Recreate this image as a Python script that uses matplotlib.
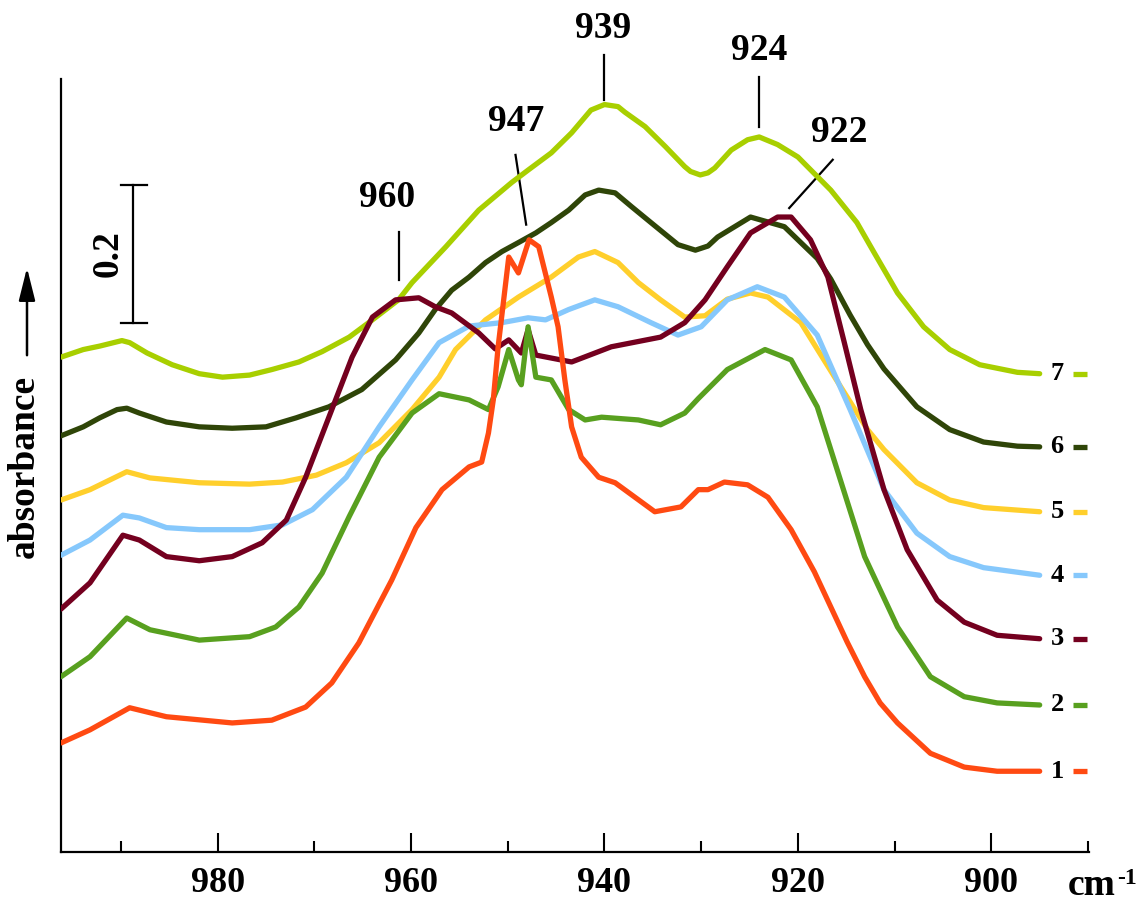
import matplotlib.pyplot as plt

plt.rcParams['font.family'] = ['Liberation Serif', 'DejaVu Serif']
plt.rcParams['font.weight'] = 'bold'

# wavenumber (cm-1) / absorbance pairs, spectra stacked bottom (1) to top (7)
w1 = [996.2, 993.2, 989.1, 985.3, 978.5, 974.4, 970.9, 968.2, 965.4, 962.0,
      959.5, 956.8, 954.0, 952.7, 952.0, 951.5, 951.0, 949.9, 948.9, 947.8,
      946.8, 945.5, 944.8, 944.1, 943.4, 942.4, 940.6, 938.9, 934.8, 932.1,
      930.3, 929.3, 927.6, 925.2, 923.1, 920.7, 918.3, 916.6, 914.9, 913.1,
      911.5, 909.7, 906.3, 902.8, 899.4, 895.0]
a1 = [0.158, 0.177, 0.209, 0.196, 0.187, 0.191, 0.210, 0.245, 0.303, 0.394,
      0.470, 0.525, 0.558, 0.565, 0.607, 0.655, 0.732, 0.862, 0.839, 0.887,
      0.877, 0.804, 0.761, 0.684, 0.616, 0.572, 0.543, 0.535, 0.493, 0.500,
      0.525, 0.525, 0.536, 0.532, 0.514, 0.467, 0.406, 0.355, 0.304, 0.254,
      0.216, 0.187, 0.143, 0.123, 0.117, 0.117]

w2 = [996.2, 993.2, 989.4, 987.0, 981.9, 976.7, 974.0, 971.6, 969.2, 966.4,
      963.3, 959.9, 957.1, 954.0, 952.0, 951.0, 949.9, 948.9, 948.6, 947.9,
      947.1, 945.5, 943.7, 942.0, 940.3, 936.5, 934.2, 931.7, 930.3, 927.3,
      923.4, 920.7, 918.0, 916.6, 913.1, 909.7, 906.3, 902.8, 899.4, 895.0]
a2 = [0.254, 0.283, 0.339, 0.322, 0.307, 0.312, 0.326, 0.355, 0.404, 0.486,
      0.572, 0.636, 0.664, 0.655, 0.641, 0.674, 0.728, 0.684, 0.677, 0.761,
      0.688, 0.684, 0.641, 0.626, 0.630, 0.626, 0.619, 0.636, 0.657, 0.699,
      0.728, 0.713, 0.645, 0.583, 0.428, 0.326, 0.254, 0.225, 0.216, 0.213]

w3 = [996.2, 993.2, 989.8, 988.1, 985.3, 981.9, 978.5, 975.4, 972.9, 970.9,
      968.5, 966.1, 964.0, 961.6, 959.2, 957.5, 955.8, 953.0, 951.3, 949.9,
      948.6, 947.9, 947.1, 943.4, 939.3, 934.2, 931.7, 929.6, 927.3, 924.9,
      922.1, 920.7, 918.7, 916.9, 915.2, 913.5, 911.1, 908.7, 905.6, 902.8,
      899.4, 895.0]
a3 = [0.352, 0.390, 0.459, 0.452, 0.428, 0.422, 0.428, 0.448, 0.481, 0.543,
      0.630, 0.717, 0.775, 0.800, 0.803, 0.790, 0.781, 0.752, 0.729, 0.742,
      0.723, 0.757, 0.720, 0.710, 0.732, 0.746, 0.767, 0.800, 0.848, 0.897,
      0.920, 0.920, 0.887, 0.833, 0.738, 0.641, 0.525, 0.438, 0.365, 0.333,
      0.314, 0.309]

w4 = [996.2, 993.2, 989.8, 988.1, 985.3, 981.9, 976.7, 973.3, 970.2, 966.7,
      963.3, 959.9, 957.1, 954.0, 950.6, 947.9, 946.1, 943.7, 941.0, 938.6,
      935.2, 932.4, 930.0, 927.3, 924.2, 921.4, 918.0, 914.6, 911.1, 907.7,
      904.3, 900.8, 895.0]
a4 = [0.430, 0.452, 0.488, 0.484, 0.470, 0.467, 0.467, 0.474, 0.496, 0.543,
      0.616, 0.684, 0.738, 0.762, 0.767, 0.774, 0.771, 0.786, 0.800, 0.790,
      0.767, 0.749, 0.761, 0.800, 0.819, 0.804, 0.749, 0.641, 0.525, 0.462,
      0.428, 0.412, 0.401]

w5 = [996.2, 993.2, 989.4, 987.0, 981.9, 976.7, 973.3, 969.8, 966.7, 963.3,
      959.9, 957.1, 955.4, 952.3, 948.9, 945.5, 942.7, 941.0, 938.6, 936.5,
      934.2, 931.7, 929.6, 927.3, 924.9, 923.1, 919.7, 916.2, 912.8, 911.1,
      907.7, 904.3, 900.8, 895.0]
a5 = [0.510, 0.525, 0.551, 0.542, 0.535, 0.533, 0.536, 0.546, 0.564, 0.593,
      0.641, 0.688, 0.728, 0.771, 0.804, 0.833, 0.862, 0.870, 0.854, 0.825,
      0.800, 0.775, 0.777, 0.801, 0.810, 0.804, 0.767, 0.688, 0.612, 0.583,
      0.535, 0.510, 0.499, 0.493]

w6 = [996.2, 993.9, 992.2, 990.4, 989.4, 988.1, 985.3, 981.9, 978.5, 975.0,
      971.9, 968.5, 965.1, 961.6, 959.2, 957.5, 955.8, 954.0, 952.3, 950.6,
      948.9, 947.1, 945.5, 943.7, 942.0, 940.6, 938.9, 937.2, 935.2, 932.4,
      930.6, 929.3, 928.3, 924.9, 921.4, 918.0, 916.6, 914.6, 912.8, 911.1,
      907.7, 904.3, 900.8, 897.3, 895.0]
a6 = [0.603, 0.616, 0.629, 0.641, 0.643, 0.636, 0.623, 0.616, 0.614, 0.616,
      0.629, 0.645, 0.670, 0.713, 0.752, 0.786, 0.814, 0.833, 0.854, 0.870,
      0.883, 0.897, 0.912, 0.930, 0.952, 0.959, 0.955, 0.935, 0.912, 0.880,
      0.872, 0.878, 0.891, 0.920, 0.906, 0.860, 0.830, 0.778, 0.735, 0.700,
      0.645, 0.612, 0.594, 0.588, 0.587]

w7 = [996.2, 993.9, 992.2, 989.9, 989.1, 987.3, 984.7, 981.9, 979.5, 976.7,
      974.4, 971.6, 969.2, 966.4, 964.0, 961.3, 959.9, 956.4, 953.0, 949.6,
      947.9, 945.5, 943.4, 941.4, 940.0, 938.6, 937.9, 935.8, 933.7, 931.7,
      931.1, 930.1, 929.3, 928.6, 926.9, 925.2, 924.0, 922.1, 920.0, 916.6,
      913.9, 912.1, 909.7, 907.0, 904.3, 901.2, 897.3, 895.0]
a7 = [0.717, 0.728, 0.733, 0.741, 0.738, 0.723, 0.706, 0.693, 0.688, 0.691,
      0.699, 0.710, 0.725, 0.746, 0.771, 0.800, 0.825, 0.877, 0.930, 0.970,
      0.988, 1.013, 1.042, 1.075, 1.083, 1.080, 1.072, 1.051, 1.022, 0.993,
      0.986, 0.981, 0.984, 0.991, 1.017, 1.032, 1.036, 1.025, 1.007, 0.959,
      0.912, 0.868, 0.810, 0.761, 0.728, 0.706, 0.695, 0.693]

curve_labels = ['1', '2', '3', '4', '5', '6', '7']
colors = ['#ff4a12', '#58a01f', '#74001f', '#86c8fc', '#ffcf2c', '#2f4508', '#a8cf00']

# band positions marked above the spectra
peak_labels = ['960', '947', '939', '924', '922']

spectra = [(w1, a1), (w2, a2), (w3, a3), (w4, a4), (w5, a5), (w6, a6), (w7, a7)]

fig = plt.figure(figsize=(11.41, 9.02), dpi=100)
ax = fig.add_axes([61 / 1141, 50 / 902, 1028 / 1141, 773 / 902])

for (w, a), c, lab in reversed(list(zip(spectra, colors, curve_labels))):
    ax.plot(w, a, color=c, lw=3.8, solid_joinstyle='round', solid_capstyle='round', zorder=3)
    ax.text(893.2, a[-1], lab, ha='center', va='center', fontsize=19, fontweight='bold')
    ax.plot([891.6, 890.1], [a[-1], a[-1]], color=c, lw=3.8, solid_capstyle='butt',
            clip_on=False, zorder=3)

# marker lines and labels for the bands
marks = [
    ((962.5, 0.949), (961.3, 0.899), (961.3, 0.829)),
    ((949.1, 1.058), (949.2, 1.010), (948.1, 0.909)),
    ((940.1, 1.193), (940.1, 1.155), (940.1, 1.090)),
    ((924.0, 1.161), (924.0, 1.123), (924.0, 1.051)),
    ((915.7, 1.042), (916.4, 1.003), (920.9, 0.933)),
]
for lab, (txt, p0, p1) in zip(peak_labels, marks):
    ax.text(txt[0], txt[1], lab, ha='center', va='center', fontsize=27, fontweight='bold')
    ax.plot([p0[0], p1[0]], [p0[1], p1[1]], color='black', lw=1.6, clip_on=False, zorder=1)

# 0.2 absorbance scale bar
bar_x, bar_lo, bar_len = 988.8, 0.767, 0.2
ax.plot([bar_x, bar_x], [bar_lo, bar_lo + bar_len], color='black', lw=1.6)
for yy in (bar_lo, bar_lo + bar_len):
    ax.plot([990.0, 987.35], [yy, yy], color='black', lw=1.6)
ax.text(991.3, bar_lo + bar_len / 2, '0.2', rotation=90, ha='center', va='center',
        fontsize=27, fontweight='bold')

ax.set_xlim(996.2, 889.9)
ax.set_ylim(0, 1.12)
ax.set_xticks([980, 960, 940, 920, 900])
ax.set_xticks([990, 970, 950, 930, 910, 890], minor=True)
ax.set_yticks([])
ax.tick_params(axis='x', which='major', direction='in', length=13.5, width=1.5,
               labelsize=26, pad=11)
ax.tick_params(axis='x', which='minor', direction='in', length=8, width=1.5)
for lbl in ax.get_xticklabels():
    lbl.set_fontweight('bold')
for side in ('top', 'right'):
    ax.spines[side].set_visible(False)
for side in ('left', 'bottom'):
    ax.spines[side].set_linewidth(1.6)

fig.text(24 / 1141, 1 - 466 / 902, 'absorbance', rotation=90, ha='center', va='center',
         fontsize=27, fontweight='bold')
ax.annotate('', xy=(27 / 1141, 1 - 265 / 902), xytext=(27 / 1141, 1 - 358 / 902),
            xycoords='figure fraction', textcoords='figure fraction',
            arrowprops=dict(arrowstyle='-|>,head_length=1.0,head_width=0.25',
                            mutation_scale=20, color='black', lw=1.8))

fig.text(1068 / 1141, 1 - 895 / 902, 'cm', ha='left', va='baseline', fontsize=27,
         fontweight='bold')
fig.text(1117 / 1141, 1 - 868 / 902, '-1', ha='left', va='top', fontsize=17,
         fontweight='bold')

fig.savefig('out.png', dpi=100)
